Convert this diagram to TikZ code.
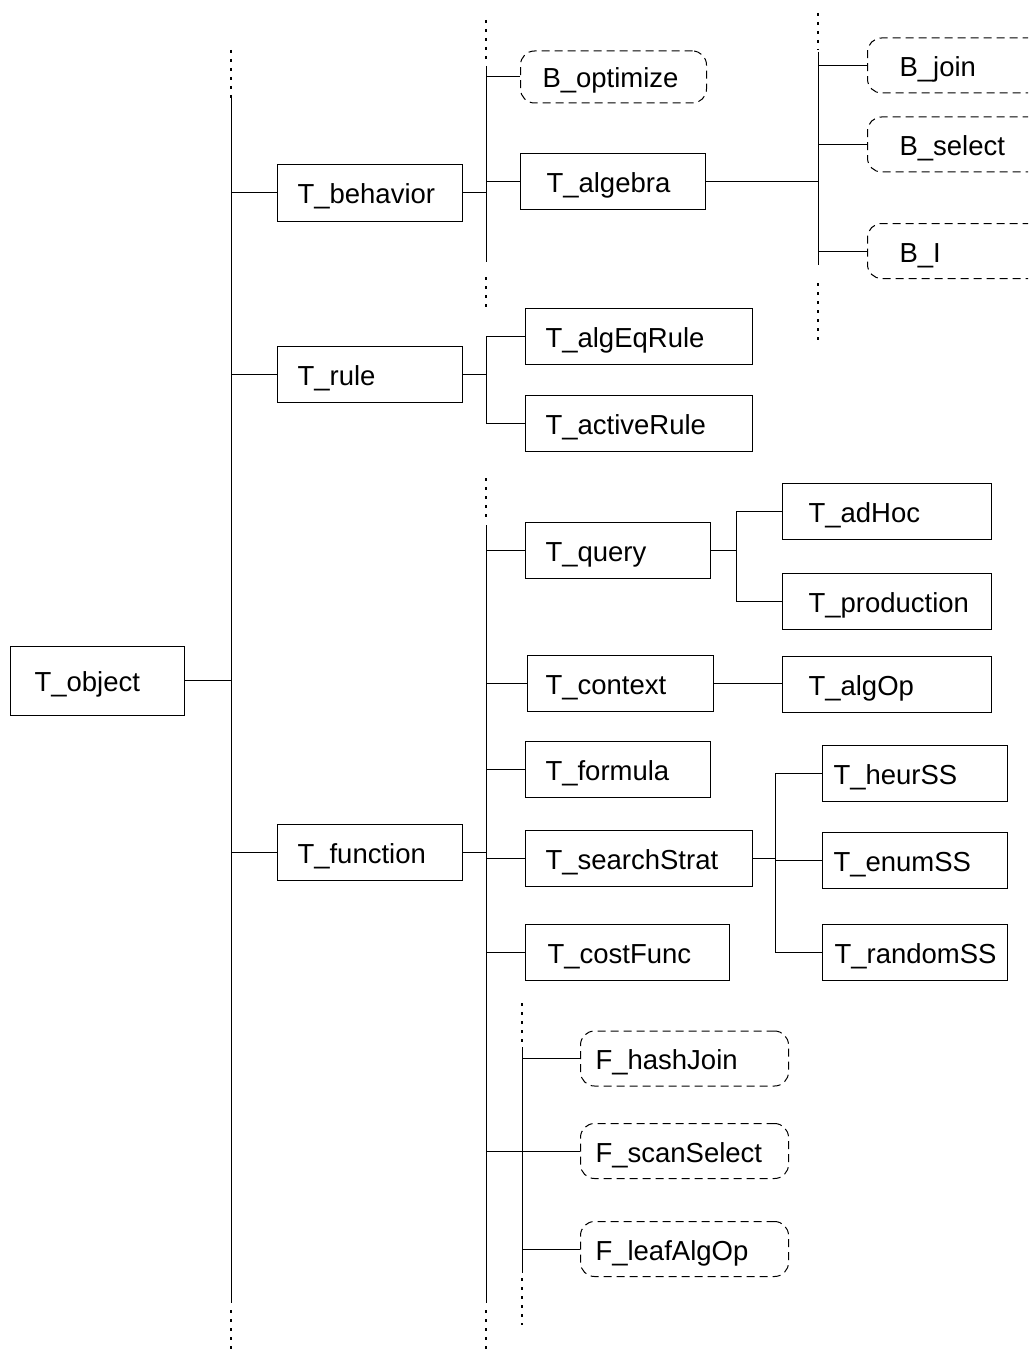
\documentclass[tikz,border=0pt]{standalone}
\usepackage{fontspec}
\setmainfont{Liberation Sans}
\usetikzlibrary{calc}
\def\boxfont{\fontsize{27.5}{33}\selectfont\hyphenpenalty=10000\exhyphenpenalty=10000}
\tikzset{
	box/.style={draw, line width=1pt, font=\boxfont, align=left, inner xsep=20pt, inner ysep=0pt, minimum height=56pt, text height=24pt, text depth=2pt},
	tbox/.style={box, text width=#1},
	bbox/.style={box, dash pattern=on 8pt off 5pt, rounded corners=14pt, minimum height=55pt, text width=#1},
	link/.style={line width=1pt},
	dotline/.style={line width=1.1pt, dash pattern=on 3pt off 6pt},
}

\begin{document}
\begin{tikzpicture}[x=1pt, y=-1pt]
			%%%%% START %%%%%
			\useasboundingbox (0, 0) rectangle (1028, 1351);
			\clip (0, 0) rectangle (1028, 1351);
			
			% columns
			\coordinate (trunk) at (231, 0);
			\coordinate (bcol) at (486, 0);
			\coordinate (acol) at (818, 0);
			\coordinate (fcol) at (522, 0);
			\coordinate (qcol) at (736, 0);
			\coordinate (scol) at (775, 0);
			
			% root
			\node[tbox=126pt, inner xsep=24pt, minimum height=69pt, anchor=west] (obj) at (10, 680.5) {T\_object};
			
			% behavior
			\node[tbox=145pt, anchor=west] (behavior) at (277, 193) {T\_behavior};
			\node[bbox=142pt, inner xsep=22pt, minimum height=52pt, anchor=west] (optimize) at (520, 77) {B\_optimize};
			\node[tbox=133pt, inner xsep=26pt, anchor=west] (algebra) at (520, 181.5) {T\_algebra};
			\node[bbox=126pt, inner xsep=32pt, anchor=west] (bjoin) at (867, 65.5) {B\_join};
			\node[bbox=126pt, inner xsep=32pt, anchor=west] (bselect) at (867, 144.5) {B\_select};
			\node[bbox=126pt, inner xsep=32pt, anchor=west] (bi) at (867, 251) {B\_I};
			
			% rule
			\node[tbox=145pt, anchor=west] (rule) at (277, 374) {T\_rule};
			\node[tbox=187pt, anchor=west] (algeq) at (525, 336.5) {T\_algEqRule};
			\node[tbox=187pt, anchor=west] (active) at (525, 423.5) {T\_activeRule};
			
			% function
			\node[tbox=145pt, anchor=west] (function) at (277, 852) {T\_function};
			\node[tbox=145pt, anchor=west] (query) at (525, 550) {T\_query};
			\node[tbox=157pt, inner xsep=26pt, anchor=west] (adhoc) at (782, 511.5) {T\_adHoc};
			\node[tbox=157pt, inner xsep=26pt, anchor=west] (production) at (782, 601.5) {T\_production};
			\node[tbox=150pt, inner xsep=18pt, anchor=west] (context) at (527, 683) {T\_context};
			\node[tbox=157pt, inner xsep=26pt, anchor=west] (algop) at (782, 684.5) {T\_algOp};
			\node[tbox=145pt, anchor=west] (formula) at (525, 769) {T\_formula};
			\node[tbox=187pt, anchor=west] (search) at (525, 858.5) {T\_searchStrat};
			\node[tbox=163pt, inner xsep=11pt, anchor=west] (heur) at (822, 773) {T\_heurSS};
			\node[tbox=163pt, inner xsep=11pt, anchor=west] (enum) at (822, 860) {T\_enumSS};
			\node[tbox=161pt, inner xsep=12pt, anchor=west] (random) at (822, 952) {T\_randomSS};
			\node[tbox=160pt, inner xsep=22pt, anchor=west] (costfunc) at (525, 952.5) {T\_costFunc};
			\node[bbox=178pt, inner xsep=15pt, anchor=west] (hash) at (580, 1058.5) {F\_hashJoin};
			\node[bbox=178pt, inner xsep=15pt, anchor=west] (scan) at (580, 1151) {F\_scanSelect};
			\node[bbox=178pt, inner xsep=15pt, anchor=west] (leaf) at (580, 1249) {F\_leafAlgOp};
			
			% trunk
			\draw[dotline] (231, 50) -- (231, 98);
			\draw[link] (231, 98) -- (231, 1303);
			\draw[dotline] (231, 1310) -- (231, 1351);
			\draw[link] (obj.east) -- (obj.east -| trunk);
			\foreach \n in {behavior, rule, function}
				\draw[link] (trunk |- \n.west) -- (\n.west);
			
			% behavior column
			\draw[dotline] (486, 20) -- (486, 62);
			\draw[link] (486, 66) -- (486, 262);
			\draw[dotline] (486, 277) -- (486, 307);
			\draw[link] (behavior.east) -- (behavior.east -| bcol);
			\foreach \n in {optimize, algebra}
				\draw[link] (bcol |- \n.west) -- (\n.west);
			
			% algebra column
			\draw[dotline] (818, 13) -- (818, 50);
			\draw[link] (818, 52) -- (818, 265);
			\draw[dotline] (818, 283) -- (818, 343);
			\draw[link] (algebra.east) -- (algebra.east -| acol);
			\foreach \n in {bjoin, bselect, bi}
				\draw[link] (acol |- \n.west) -- (\n.west);
			
			% rule branches
			\draw[link] (rule.east) -- (rule.east -| bcol);
			\draw[link] (algeq.west) -- (algeq.west -| bcol) -- (active.west -| bcol) -- (active.west);
			
			% function column
			\draw[dotline] (486, 478) -- (486, 518);
			\draw[link] (486, 525) -- (486, 1303);
			\draw[dotline] (486, 1310) -- (486, 1351);
			\draw[link] (function.east) -- (function.east -| bcol);
			\foreach \n in {query, context, formula, search, costfunc, scan}
				\draw[link] (bcol |- \n.west) -- (\n.west);
			
			% query, context, search
			\draw[link] (query.east) -- (query.east -| qcol);
			\draw[link] (adhoc.west) -- (adhoc.west -| qcol) -- (production.west -| qcol) -- (production.west);
			\draw[link] (context.east) -- (context.east -| algop.west);
			\draw[link] (search.east) -- (search.east -| scol);
			\draw[link] (heur.west) -- (heur.west -| scol) -- (random.west -| scol) -- (random.west);
			\draw[link] (scol |- enum.west) -- (enum.west);
			
			% algorithm column
			\draw[dotline] (522, 1003) -- (522, 1045);
			\draw[link] (522, 1047) -- (522, 1273);
			\draw[dotline] (522, 1278) -- (522, 1325);
			\foreach \n in {hash, leaf}
				\draw[link] (fcol |- \n.west) -- (\n.west);
			
			%%%%% END %%%%%
\end{tikzpicture}
\end{document}
